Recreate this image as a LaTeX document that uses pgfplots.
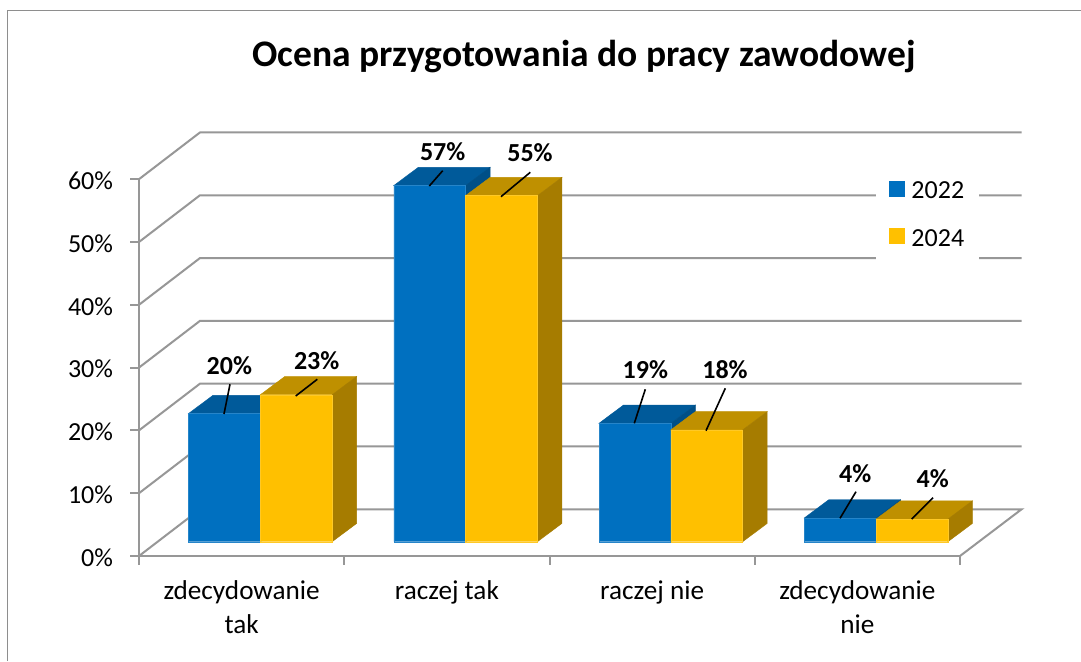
\documentclass[border=0pt]{standalone}
\usepackage{pgfplots}
\pgfplotsset{compat=1.18}
\usepackage{fontspec}
\setmainfont{Carlito}
\definecolor{wallgray}{HTML}{979797}
\definecolor{framegray}{HTML}{8E8E8E}
\definecolor{bluefront}{HTML}{0070C0}
\definecolor{bluetop}{HTML}{005A9A}
\definecolor{blueside}{HTML}{004F87}
\definecolor{yelfront}{HTML}{FFC000}
\definecolor{yeltop}{HTML}{BF9000}
\definecolor{yelside}{HTML}{A67C00}
% depth of a bar, in axis units
\newcommand{\dpx}{0.1194}
\newcommand{\dpy}{2.91}
\tikzset{depth/.style={xshift=18.7pt,yshift=14.3pt}}
\newcommand{\wall}[1]{%
  \addplot[wallgray,line width=2pt,forget plot] coordinates {(0,#1) (0.297,{#1+7.44}) (4.3,{#1+7.44})};}
% #1 left x, #2 value, #3 top colour, #4 side colour
\newcommand{\faces}[4]{%
  \addplot[depth,fill=#3,draw=#3,line width=0.4pt,forget plot] coordinates
   {(#1,#2) ({#1+0.35},#2) ({#1+0.35+\dpx},{#2+\dpy}) ({#1+\dpx},{#2+\dpy})} --cycle;
  \addplot[depth,fill=#4,draw=#4,line width=0.4pt,forget plot] coordinates
   {({#1+0.35},0) ({#1+0.35+\dpx},\dpy) ({#1+0.35+\dpx},{#2+\dpy}) ({#1+0.35},#2)} --cycle;}
\newcommand{\vlabel}[7]{% text, cx, cy, x1, y1, x2, y2 (pixels of the picture)
  \draw[black,line width=1.6pt] ({(#4-139)*1pt},{(556-#5)*1pt}) -- ({(#6-139)*1pt},{(556-#7)*1pt});
  \node[font=\fontsize{26}{30}\selectfont\bfseries,inner sep=0pt] at ({(#2-139)*1pt},{(556-#3)*1pt}) {#1};}
\begin{document}
\begin{tikzpicture}
\useasboundingbox (-139pt,-105pt) rectangle (942pt,556pt);
\fill[white] (-139pt,-105pt) rectangle (942pt,556pt);
\draw[framegray,line width=1.8pt] (-131.5pt,-105pt) -- (-131.5pt,545.5pt) -- (942pt,545.5pt);
\begin{axis}[
  x=205.25pt,y=6.28pt,
  xmin=0,xmax=4,ymin=0,ymax=60,
  clip=false,
  axis x line=bottom,axis y line=left,
  axis line style={draw=wallgray,line width=2pt,-},
  tick style={draw=wallgray,line width=2pt},
  tick align=outside,
  major tick length=8.5pt,
  ytick={0,10,20,30,40,50,60},
  yticklabel={\pgfmathprintnumber{\tick}\%},
  /pgf/number format/assume math mode=true,
  yticklabel style={font=\fontsize{26}{30}\selectfont,xshift=-14pt,yshift=-1.5pt},
  xtick={0,1,2,3,4},
  xticklabels={},
  extra x ticks={0.5,1.5,2.5,3.5},
  extra x tick labels={{zdecydowanie\\tak},{raczej tak},{raczej nie},{zdecydowanie\\nie}},
  extra x tick style={major tick length=0pt,tick style={draw=none},
    xticklabel style={font=\fontsize{27.2}{34}\selectfont,align=center,anchor=north,yshift=-21pt}},
  legend style={at={(axis cs:3.59,61.82)},anchor=north west,draw=none,fill=white,
    font=\fontsize{26}{30}\selectfont,inner xsep=13pt,inner ysep=12pt,
    row sep=25pt},
  legend cell align=left,
]
\wall{10}\wall{20}\wall{30}\wall{40}\wall{50}\wall{60}
\addplot[wallgray,line width=2pt,forget plot] coordinates {(4,0) (4.3,7.44) (0.297,7.44) (0,0)};
% 2022
\faces{0.15}{20.4}{bluetop}{blueside}
\faces{1.15}{56.7}{bluetop}{blueside}
\faces{2.15}{18.85}{bluetop}{blueside}
\faces{3.15}{3.77}{bluetop}{blueside}
\addplot[depth,ybar,bar width=71.8pt,bar shift=-35.9pt,fill=bluefront,draw=bluefront!85!white,line width=0.4pt,
  legend image code/.code={\fill[bluefront] (0pt,-19pt) rectangle (15pt,-4pt);}]
  coordinates {(0.5,20.4) (1.5,56.7) (2.5,18.85) (3.5,3.77)};
\addlegendentry{\hspace*{5pt}2022}
% 2024
\faces{0.5}{23.4}{yeltop}{yelside}
\faces{1.5}{55.1}{yeltop}{yelside}
\faces{2.5}{17.8}{yeltop}{yelside}
\faces{3.5}{3.6}{yeltop}{yelside}
\addplot[depth,ybar,bar width=71.8pt,bar shift=35.9pt,fill=yelfront,draw=yelfront!85!white,line width=0.4pt,
  legend image code/.code={\fill[yelfront] (0pt,-19pt) rectangle (15pt,-4pt);}]
  coordinates {(0.5,23.4) (1.5,55.1) (2.5,17.8) (3.5,3.6)};
\addlegendentry{\hspace*{5pt}2024}
\end{axis}
\vlabel{20\%}{229.3}{366}{224}{414}{230}{384.3}
\vlabel{23\%}{316.7}{361}{295.7}{396}{317.3}{379.3}
\vlabel{57\%}{442.7}{151.7}{429.3}{186}{442.7}{170.7}
\vlabel{55\%}{530}{152.7}{501}{196.7}{530.3}{172.3}
\vlabel{19\%}{645.3}{370}{634.3}{423.3}{645.3}{389.3}
\vlabel{18\%}{725}{369.3}{706}{430.7}{725.3}{388.3}
\vlabel{4\%}{855.3}{473.3}{840}{518.3}{856}{491.7}
\vlabel{4\%}{932.7}{478.3}{911.7}{519}{933}{497.7}
\node[font=\fontsize{37.5}{40}\selectfont\bfseries,inner sep=0pt] at (445pt,499pt) {Ocena przygotowania do pracy zawodowej};
\end{tikzpicture}
\end{document}
